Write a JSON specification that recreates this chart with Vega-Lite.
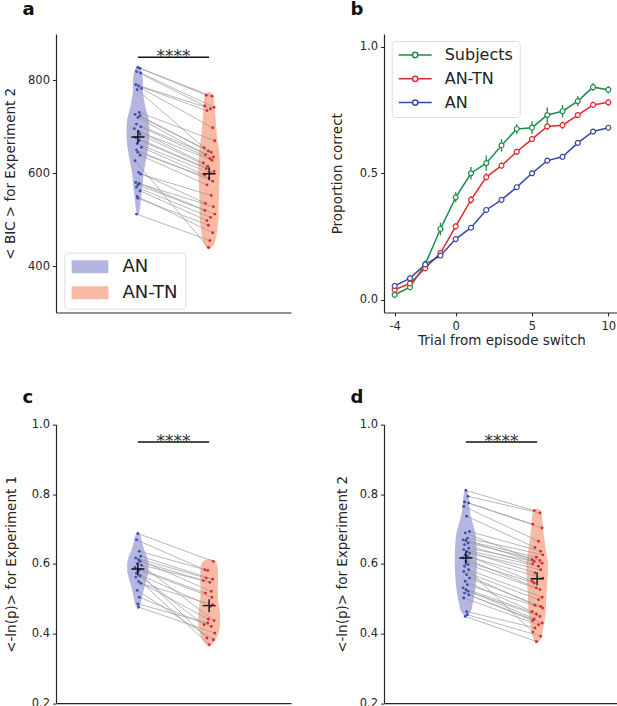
{
  "$schema": "https://vega.github.io/schema/vega-lite/v6.json",
  "background": "white",
  "padding": {"left": 3, "top": 0, "right": 0, "bottom": 0},
  "datasets": {
    "pairs": [
      {"p": "a", "an": 828, "tn": 768, "xa": 0.0, "xt": 0.96},
      {"p": "a", "an": 826, "tn": 766, "xa": 0.03, "xt": 1.04},
      {"p": "a", "an": 819, "tn": 745, "xa": -0.02, "xt": 0.94},
      {"p": "a", "an": 816, "tn": 742, "xa": 0.04, "xt": 1.07},
      {"p": "a", "an": 791, "tn": 739, "xa": -0.03, "xt": 1.02},
      {"p": "a", "an": 788, "tn": 735, "xa": 0.01, "xt": 0.97},
      {"p": "a", "an": 783, "tn": 698, "xa": 0.05, "xt": 1.05},
      {"p": "a", "an": 780, "tn": 655, "xa": -0.01, "xt": 0.93},
      {"p": "a", "an": 731, "tn": 670, "xa": 0.02, "xt": 1.08},
      {"p": "a", "an": 727, "tn": 648, "xa": -0.04, "xt": 0.99},
      {"p": "a", "an": 724, "tn": 645, "xa": 0.03, "xt": 1.03},
      {"p": "a", "an": 720, "tn": 640, "xa": 0.0, "xt": 0.95},
      {"p": "a", "an": 706, "tn": 635, "xa": -0.02, "xt": 1.06},
      {"p": "a", "an": 700, "tn": 632, "xa": 0.04, "xt": 1.01},
      {"p": "a", "an": 696, "tn": 622, "xa": -0.05, "xt": 0.92},
      {"p": "a", "an": 690, "tn": 628, "xa": 0.01, "xt": 1.04},
      {"p": "a", "an": 684, "tn": 615, "xa": 0.03, "xt": 0.98},
      {"p": "a", "an": 677, "tn": 604, "xa": -0.03, "xt": 1.07},
      {"p": "a", "an": 671, "tn": 610, "xa": 0.02, "xt": 0.96},
      {"p": "a", "an": 664, "tn": 600, "xa": -0.01, "xt": 1.02},
      {"p": "a", "an": 656, "tn": 596, "xa": 0.05, "xt": 0.94},
      {"p": "a", "an": 650, "tn": 583, "xa": -0.02, "xt": 1.05},
      {"p": "a", "an": 645, "tn": 590, "xa": 0.0, "xt": 1.0},
      {"p": "a", "an": 639, "tn": 575, "xa": 0.03, "xt": 0.97},
      {"p": "a", "an": 627, "tn": 440, "xa": -0.04, "xt": 0.99},
      {"p": "a", "an": 602, "tn": 535, "xa": 0.01, "xt": 0.95},
      {"p": "a", "an": 598, "tn": 552, "xa": 0.04, "xt": 1.03},
      {"p": "a", "an": 580, "tn": 528, "xa": -0.03, "xt": 1.06},
      {"p": "a", "an": 578, "tn": 512, "xa": 0.02, "xt": 1.08},
      {"p": "a", "an": 575, "tn": 520, "xa": 0.0, "xt": 0.94},
      {"p": "a", "an": 570, "tn": 505, "xa": -0.02, "xt": 1.02},
      {"p": "a", "an": 562, "tn": 498, "xa": 0.03, "xt": 0.97},
      {"p": "a", "an": 550, "tn": 472, "xa": -0.01, "xt": 1.05},
      {"p": "a", "an": 546, "tn": 488, "xa": 0.0, "xt": 0.99},
      {"p": "a", "an": 512, "tn": 455, "xa": -0.02, "xt": 1.01},
      {"p": "c", "an": 0.687, "tn": 0.607, "xa": 0.0, "xt": 1.06},
      {"p": "c", "an": 0.669, "tn": 0.583, "xa": -0.02, "xt": 0.94},
      {"p": "c", "an": 0.636, "tn": 0.581, "xa": 0.02, "xt": 0.98},
      {"p": "c", "an": 0.622, "tn": 0.556, "xa": 0.04, "xt": 1.05},
      {"p": "c", "an": 0.617, "tn": 0.559, "xa": -0.03, "xt": 0.96},
      {"p": "c", "an": 0.612, "tn": 0.521, "xa": 0.01, "xt": 1.03},
      {"p": "c", "an": 0.607, "tn": 0.552, "xa": 0.03, "xt": 0.92},
      {"p": "c", "an": 0.600, "tn": 0.547, "xa": -0.01, "xt": 1.01},
      {"p": "c", "an": 0.596, "tn": 0.437, "xa": 0.05, "xt": 1.07},
      {"p": "c", "an": 0.590, "tn": 0.516, "xa": -0.04, "xt": 0.95},
      {"p": "c", "an": 0.583, "tn": 0.504, "xa": 0.02, "xt": 1.04},
      {"p": "c", "an": 0.578, "tn": 0.387, "xa": 0.0, "xt": 0.97},
      {"p": "c", "an": 0.573, "tn": 0.478, "xa": -0.02, "xt": 1.02},
      {"p": "c", "an": 0.565, "tn": 0.425, "xa": 0.03, "xt": 0.93},
      {"p": "c", "an": 0.562, "tn": 0.368, "xa": -0.03, "xt": 1.0},
      {"p": "c", "an": 0.549, "tn": 0.441, "xa": 0.01, "xt": 0.99},
      {"p": "c", "an": 0.544, "tn": 0.483, "xa": 0.04, "xt": 1.05},
      {"p": "c", "an": 0.524, "tn": 0.382, "xa": -0.01, "xt": 1.06},
      {"p": "c", "an": 0.504, "tn": 0.420, "xa": 0.02, "xt": 1.03},
      {"p": "c", "an": 0.485, "tn": 0.430, "xa": 0.0, "xt": 0.98},
      {"p": "c", "an": 0.476, "tn": 0.401, "xa": 0.01, "xt": 1.08},
      {"p": "d", "an": 0.811, "tn": 0.753, "xa": 0.0, "xt": 0.96},
      {"p": "d", "an": 0.794, "tn": 0.746, "xa": 0.03, "xt": 1.04},
      {"p": "d", "an": 0.778, "tn": 0.714, "xa": -0.02, "xt": 0.94},
      {"p": "d", "an": 0.775, "tn": 0.703, "xa": 0.04, "xt": 1.07},
      {"p": "d", "an": 0.765, "tn": 0.665, "xa": -0.03, "xt": 1.02},
      {"p": "d", "an": 0.737, "tn": 0.647, "xa": 0.01, "xt": 0.97},
      {"p": "d", "an": 0.693, "tn": 0.636, "xa": 0.05, "xt": 1.05},
      {"p": "d", "an": 0.689, "tn": 0.612, "xa": -0.01, "xt": 0.93},
      {"p": "d", "an": 0.674, "tn": 0.626, "xa": 0.02, "xt": 1.08},
      {"p": "d", "an": 0.669, "tn": 0.619, "xa": -0.04, "xt": 0.99},
      {"p": "d", "an": 0.667, "tn": 0.607, "xa": 0.0, "xt": 0.96},
      {"p": "d", "an": 0.660, "tn": 0.610, "xa": 0.03, "xt": 1.04},
      {"p": "d", "an": 0.655, "tn": 0.600, "xa": -0.02, "xt": 0.94},
      {"p": "d", "an": 0.645, "tn": 0.602, "xa": 0.04, "xt": 1.07},
      {"p": "d", "an": 0.641, "tn": 0.593, "xa": -0.03, "xt": 1.02},
      {"p": "d", "an": 0.636, "tn": 0.574, "xa": 0.01, "xt": 0.97},
      {"p": "d", "an": 0.631, "tn": 0.583, "xa": 0.05, "xt": 1.05},
      {"p": "d", "an": 0.626, "tn": 0.550, "xa": -0.01, "xt": 0.93},
      {"p": "d", "an": 0.622, "tn": 0.559, "xa": 0.02, "xt": 1.08},
      {"p": "d", "an": 0.617, "tn": 0.531, "xa": -0.04, "xt": 0.99},
      {"p": "d", "an": 0.607, "tn": 0.545, "xa": 0.0, "xt": 0.96},
      {"p": "d", "an": 0.598, "tn": 0.526, "xa": 0.03, "xt": 1.04},
      {"p": "d", "an": 0.593, "tn": 0.404, "xa": -0.02, "xt": 0.94},
      {"p": "d", "an": 0.583, "tn": 0.504, "xa": 0.04, "xt": 1.07},
      {"p": "d", "an": 0.578, "tn": 0.497, "xa": -0.03, "xt": 1.02},
      {"p": "d", "an": 0.569, "tn": 0.481, "xa": 0.01, "xt": 0.97},
      {"p": "d", "an": 0.559, "tn": 0.478, "xa": 0.05, "xt": 1.05},
      {"p": "d", "an": 0.550, "tn": 0.463, "xa": -0.01, "xt": 0.93},
      {"p": "d", "an": 0.540, "tn": 0.473, "xa": 0.02, "xt": 1.08},
      {"p": "d", "an": 0.531, "tn": 0.456, "xa": -0.04, "xt": 0.99},
      {"p": "d", "an": 0.526, "tn": 0.442, "xa": 0.0, "xt": 0.96},
      {"p": "d", "an": 0.521, "tn": 0.449, "xa": 0.03, "xt": 1.04},
      {"p": "d", "an": 0.516, "tn": 0.437, "xa": -0.02, "xt": 0.94},
      {"p": "d", "an": 0.511, "tn": 0.430, "xa": 0.04, "xt": 1.07},
      {"p": "d", "an": 0.502, "tn": 0.425, "xa": -0.03, "xt": 1.02},
      {"p": "d", "an": 0.463, "tn": 0.416, "xa": 0.01, "xt": 0.97},
      {"p": "d", "an": 0.454, "tn": 0.392, "xa": 0.02, "xt": 1.05},
      {"p": "d", "an": 0.449, "tn": 0.377, "xa": -0.01, "xt": 0.99}
    ],
    "violin": [
      {"p": "a", "g": "AN", "v": 832, "lo": 0, "hi": 0},
      {"p": "a", "g": "AN", "v": 828, "lo": -0.03, "hi": 0.03},
      {"p": "a", "g": "AN", "v": 815, "lo": -0.055, "hi": 0.055},
      {"p": "a", "g": "AN", "v": 800, "lo": -0.07, "hi": 0.07},
      {"p": "a", "g": "AN", "v": 780, "lo": -0.07, "hi": 0.07},
      {"p": "a", "g": "AN", "v": 760, "lo": -0.085, "hi": 0.085},
      {"p": "a", "g": "AN", "v": 740, "lo": -0.11, "hi": 0.11},
      {"p": "a", "g": "AN", "v": 720, "lo": -0.145, "hi": 0.145},
      {"p": "a", "g": "AN", "v": 700, "lo": -0.16, "hi": 0.16},
      {"p": "a", "g": "AN", "v": 680, "lo": -0.16, "hi": 0.16},
      {"p": "a", "g": "AN", "v": 660, "lo": -0.15, "hi": 0.15},
      {"p": "a", "g": "AN", "v": 640, "lo": -0.13, "hi": 0.13},
      {"p": "a", "g": "AN", "v": 620, "lo": -0.105, "hi": 0.105},
      {"p": "a", "g": "AN", "v": 600, "lo": -0.08, "hi": 0.08},
      {"p": "a", "g": "AN", "v": 580, "lo": -0.07, "hi": 0.07},
      {"p": "a", "g": "AN", "v": 560, "lo": -0.055, "hi": 0.055},
      {"p": "a", "g": "AN", "v": 540, "lo": -0.04, "hi": 0.04},
      {"p": "a", "g": "AN", "v": 520, "lo": -0.025, "hi": 0.025},
      {"p": "a", "g": "AN", "v": 508, "lo": 0, "hi": 0},
      {"p": "a", "g": "AN-TN", "v": 775, "lo": 1, "hi": 1},
      {"p": "a", "g": "AN-TN", "v": 768, "lo": 0.94, "hi": 1.06},
      {"p": "a", "g": "AN-TN", "v": 750, "lo": 0.925, "hi": 1.075},
      {"p": "a", "g": "AN-TN", "v": 720, "lo": 0.91, "hi": 1.09},
      {"p": "a", "g": "AN-TN", "v": 700, "lo": 0.9, "hi": 1.1},
      {"p": "a", "g": "AN-TN", "v": 680, "lo": 0.89, "hi": 1.11},
      {"p": "a", "g": "AN-TN", "v": 660, "lo": 0.87, "hi": 1.13},
      {"p": "a", "g": "AN-TN", "v": 640, "lo": 0.855, "hi": 1.145},
      {"p": "a", "g": "AN-TN", "v": 620, "lo": 0.85, "hi": 1.15},
      {"p": "a", "g": "AN-TN", "v": 600, "lo": 0.85, "hi": 1.15},
      {"p": "a", "g": "AN-TN", "v": 580, "lo": 0.855, "hi": 1.145},
      {"p": "a", "g": "AN-TN", "v": 560, "lo": 0.86, "hi": 1.14},
      {"p": "a", "g": "AN-TN", "v": 540, "lo": 0.865, "hi": 1.135},
      {"p": "a", "g": "AN-TN", "v": 520, "lo": 0.865, "hi": 1.135},
      {"p": "a", "g": "AN-TN", "v": 500, "lo": 0.87, "hi": 1.13},
      {"p": "a", "g": "AN-TN", "v": 480, "lo": 0.885, "hi": 1.115},
      {"p": "a", "g": "AN-TN", "v": 460, "lo": 0.905, "hi": 1.095},
      {"p": "a", "g": "AN-TN", "v": 445, "lo": 0.94, "hi": 1.06},
      {"p": "a", "g": "AN-TN", "v": 435, "lo": 1, "hi": 1},
      {"p": "c", "g": "AN", "v": 0.695, "lo": 0, "hi": 0},
      {"p": "c", "g": "AN", "v": 0.685, "lo": -0.03, "hi": 0.03},
      {"p": "c", "g": "AN", "v": 0.66, "lo": -0.06, "hi": 0.06},
      {"p": "c", "g": "AN", "v": 0.64, "lo": -0.09, "hi": 0.09},
      {"p": "c", "g": "AN", "v": 0.62, "lo": -0.13, "hi": 0.13},
      {"p": "c", "g": "AN", "v": 0.60, "lo": -0.15, "hi": 0.15},
      {"p": "c", "g": "AN", "v": 0.58, "lo": -0.15, "hi": 0.15},
      {"p": "c", "g": "AN", "v": 0.56, "lo": -0.13, "hi": 0.13},
      {"p": "c", "g": "AN", "v": 0.54, "lo": -0.1, "hi": 0.1},
      {"p": "c", "g": "AN", "v": 0.52, "lo": -0.075, "hi": 0.075},
      {"p": "c", "g": "AN", "v": 0.50, "lo": -0.055, "hi": 0.055},
      {"p": "c", "g": "AN", "v": 0.48, "lo": -0.03, "hi": 0.03},
      {"p": "c", "g": "AN", "v": 0.468, "lo": 0, "hi": 0},
      {"p": "c", "g": "AN-TN", "v": 0.615, "lo": 1, "hi": 1},
      {"p": "c", "g": "AN-TN", "v": 0.607, "lo": 0.91, "hi": 1.09},
      {"p": "c", "g": "AN-TN", "v": 0.59, "lo": 0.88, "hi": 1.12},
      {"p": "c", "g": "AN-TN", "v": 0.56, "lo": 0.875, "hi": 1.125},
      {"p": "c", "g": "AN-TN", "v": 0.53, "lo": 0.88, "hi": 1.12},
      {"p": "c", "g": "AN-TN", "v": 0.50, "lo": 0.875, "hi": 1.125},
      {"p": "c", "g": "AN-TN", "v": 0.47, "lo": 0.855, "hi": 1.145},
      {"p": "c", "g": "AN-TN", "v": 0.44, "lo": 0.845, "hi": 1.155},
      {"p": "c", "g": "AN-TN", "v": 0.42, "lo": 0.85, "hi": 1.15},
      {"p": "c", "g": "AN-TN", "v": 0.40, "lo": 0.87, "hi": 1.13},
      {"p": "c", "g": "AN-TN", "v": 0.385, "lo": 0.9, "hi": 1.1},
      {"p": "c", "g": "AN-TN", "v": 0.37, "lo": 0.95, "hi": 1.05},
      {"p": "c", "g": "AN-TN", "v": 0.362, "lo": 1, "hi": 1},
      {"p": "d", "g": "AN", "v": 0.818, "lo": 0, "hi": 0},
      {"p": "d", "g": "AN", "v": 0.80, "lo": -0.03, "hi": 0.03},
      {"p": "d", "g": "AN", "v": 0.77, "lo": -0.045, "hi": 0.045},
      {"p": "d", "g": "AN", "v": 0.74, "lo": -0.065, "hi": 0.065},
      {"p": "d", "g": "AN", "v": 0.72, "lo": -0.09, "hi": 0.09},
      {"p": "d", "g": "AN", "v": 0.70, "lo": -0.12, "hi": 0.12},
      {"p": "d", "g": "AN", "v": 0.68, "lo": -0.14, "hi": 0.14},
      {"p": "d", "g": "AN", "v": 0.65, "lo": -0.15, "hi": 0.15},
      {"p": "d", "g": "AN", "v": 0.62, "lo": -0.155, "hi": 0.155},
      {"p": "d", "g": "AN", "v": 0.60, "lo": -0.155, "hi": 0.155},
      {"p": "d", "g": "AN", "v": 0.57, "lo": -0.15, "hi": 0.15},
      {"p": "d", "g": "AN", "v": 0.54, "lo": -0.14, "hi": 0.14},
      {"p": "d", "g": "AN", "v": 0.51, "lo": -0.12, "hi": 0.12},
      {"p": "d", "g": "AN", "v": 0.48, "lo": -0.09, "hi": 0.09},
      {"p": "d", "g": "AN", "v": 0.46, "lo": -0.06, "hi": 0.06},
      {"p": "d", "g": "AN", "v": 0.445, "lo": 0, "hi": 0},
      {"p": "d", "g": "AN-TN", "v": 0.76, "lo": 1, "hi": 1},
      {"p": "d", "g": "AN-TN", "v": 0.75, "lo": 0.94, "hi": 1.06},
      {"p": "d", "g": "AN-TN", "v": 0.72, "lo": 0.925, "hi": 1.075},
      {"p": "d", "g": "AN-TN", "v": 0.69, "lo": 0.91, "hi": 1.09},
      {"p": "d", "g": "AN-TN", "v": 0.66, "lo": 0.89, "hi": 1.11},
      {"p": "d", "g": "AN-TN", "v": 0.63, "lo": 0.87, "hi": 1.13},
      {"p": "d", "g": "AN-TN", "v": 0.60, "lo": 0.85, "hi": 1.15},
      {"p": "d", "g": "AN-TN", "v": 0.57, "lo": 0.85, "hi": 1.15},
      {"p": "d", "g": "AN-TN", "v": 0.54, "lo": 0.86, "hi": 1.14},
      {"p": "d", "g": "AN-TN", "v": 0.51, "lo": 0.87, "hi": 1.13},
      {"p": "d", "g": "AN-TN", "v": 0.48, "lo": 0.875, "hi": 1.125},
      {"p": "d", "g": "AN-TN", "v": 0.45, "lo": 0.885, "hi": 1.115},
      {"p": "d", "g": "AN-TN", "v": 0.42, "lo": 0.91, "hi": 1.09},
      {"p": "d", "g": "AN-TN", "v": 0.40, "lo": 0.93, "hi": 1.07},
      {"p": "d", "g": "AN-TN", "v": 0.38, "lo": 0.96, "hi": 1.04},
      {"p": "d", "g": "AN-TN", "v": 0.372, "lo": 1, "hi": 1}
    ],
    "means": [
      {"p": "a", "pos": 0, "m": 678},
      {"p": "a", "pos": 1, "m": 599},
      {"p": "c", "pos": 0, "m": 0.585},
      {"p": "c", "pos": 1, "m": 0.480},
      {"p": "d", "pos": 0, "m": 0.617},
      {"p": "d", "pos": 1, "m": 0.557}
    ],
    "sig": [
      {"p": "a", "x1": 0, "x2": 1, "xm": 0.5, "y": 850, "label": "****"},
      {"p": "c", "x1": 0, "x2": 1, "xm": 0.5, "y": 0.95, "label": "****"},
      {"p": "d", "x1": 0, "x2": 1, "xm": 0.5, "y": 0.95, "label": "****"}
    ],
    "curves": [
      {"s": "Subjects", "t": -4, "p": 0.02, "lo": 0.01, "hi": 0.03},
      {"s": "Subjects", "t": -3, "p": 0.05, "lo": 0.04, "hi": 0.06},
      {"s": "Subjects", "t": -2, "p": 0.14, "lo": 0.125, "hi": 0.155},
      {"s": "Subjects", "t": -1, "p": 0.28, "lo": 0.255, "hi": 0.305},
      {"s": "Subjects", "t": 0, "p": 0.405, "lo": 0.385, "hi": 0.425},
      {"s": "Subjects", "t": 1, "p": 0.5, "lo": 0.475, "hi": 0.525},
      {"s": "Subjects", "t": 2, "p": 0.54, "lo": 0.51, "hi": 0.57},
      {"s": "Subjects", "t": 3, "p": 0.61, "lo": 0.585, "hi": 0.635},
      {"s": "Subjects", "t": 4, "p": 0.675, "lo": 0.655, "hi": 0.695},
      {"s": "Subjects", "t": 5, "p": 0.68, "lo": 0.655, "hi": 0.705},
      {"s": "Subjects", "t": 6, "p": 0.73, "lo": 0.7, "hi": 0.76},
      {"s": "Subjects", "t": 7, "p": 0.745, "lo": 0.72, "hi": 0.77},
      {"s": "Subjects", "t": 8, "p": 0.785, "lo": 0.765, "hi": 0.805},
      {"s": "Subjects", "t": 9, "p": 0.84, "lo": 0.825, "hi": 0.855},
      {"s": "Subjects", "t": 10, "p": 0.83, "lo": 0.815, "hi": 0.845},
      {"s": "AN-TN", "t": -4, "p": 0.04, "lo": 0.028, "hi": 0.052},
      {"s": "AN-TN", "t": -3, "p": 0.065, "lo": 0.053, "hi": 0.077},
      {"s": "AN-TN", "t": -2, "p": 0.125, "lo": 0.113, "hi": 0.137},
      {"s": "AN-TN", "t": -1, "p": 0.185, "lo": 0.173, "hi": 0.197},
      {"s": "AN-TN", "t": 0, "p": 0.29, "lo": 0.278, "hi": 0.302},
      {"s": "AN-TN", "t": 1, "p": 0.395, "lo": 0.38, "hi": 0.41},
      {"s": "AN-TN", "t": 2, "p": 0.485, "lo": 0.47, "hi": 0.5},
      {"s": "AN-TN", "t": 3, "p": 0.53, "lo": 0.518, "hi": 0.542},
      {"s": "AN-TN", "t": 4, "p": 0.585, "lo": 0.573, "hi": 0.597},
      {"s": "AN-TN", "t": 5, "p": 0.635, "lo": 0.623, "hi": 0.647},
      {"s": "AN-TN", "t": 6, "p": 0.685, "lo": 0.67, "hi": 0.7},
      {"s": "AN-TN", "t": 7, "p": 0.69, "lo": 0.675, "hi": 0.705},
      {"s": "AN-TN", "t": 8, "p": 0.73, "lo": 0.718, "hi": 0.742},
      {"s": "AN-TN", "t": 9, "p": 0.77, "lo": 0.758, "hi": 0.782},
      {"s": "AN-TN", "t": 10, "p": 0.78, "lo": 0.768, "hi": 0.792},
      {"s": "AN", "t": -4, "p": 0.055, "lo": 0.047, "hi": 0.063},
      {"s": "AN", "t": -3, "p": 0.085, "lo": 0.077, "hi": 0.093},
      {"s": "AN", "t": -2, "p": 0.14, "lo": 0.132, "hi": 0.148},
      {"s": "AN", "t": -1, "p": 0.175, "lo": 0.167, "hi": 0.183},
      {"s": "AN", "t": 0, "p": 0.24, "lo": 0.232, "hi": 0.248},
      {"s": "AN", "t": 1, "p": 0.285, "lo": 0.277, "hi": 0.293},
      {"s": "AN", "t": 2, "p": 0.355, "lo": 0.347, "hi": 0.363},
      {"s": "AN", "t": 3, "p": 0.395, "lo": 0.387, "hi": 0.403},
      {"s": "AN", "t": 4, "p": 0.445, "lo": 0.437, "hi": 0.453},
      {"s": "AN", "t": 5, "p": 0.5, "lo": 0.492, "hi": 0.508},
      {"s": "AN", "t": 6, "p": 0.55, "lo": 0.54, "hi": 0.56},
      {"s": "AN", "t": 7, "p": 0.565, "lo": 0.555, "hi": 0.575},
      {"s": "AN", "t": 8, "p": 0.62, "lo": 0.612, "hi": 0.628},
      {"s": "AN", "t": 9, "p": 0.665, "lo": 0.657, "hi": 0.673},
      {"s": "AN", "t": 10, "p": 0.68, "lo": 0.672, "hi": 0.688}
    ]
  },
  "columns": 2,
  "bounds": "flush",
  "spacing": {"row": 111.6, "column": 93},
  "resolve": {"scale": {"color": "independent"}, "legend": {"color": "independent"}},
  "concat": [
    {
      "width": 235,
      "height": 278.5,
      "title": {"text": "a", "anchor": "start", "frame": "group", "dx": -33.6, "offset": 1.4, "baseline": "alphabetic"},
      "layer": [
        {
          "data": {"name": "violin"},
          "transform": [{"filter": "datum.p == 'a'"}],
          "mark": {"type": "area", "orient": "horizontal", "interpolate": "monotone", "opacity": 1},
          "encoding": {
            "y": {"field": "v", "type": "quantitative", "title": "< BIC >  for Experiment 2", "scale": {"domain": [300, 900], "nice": false, "zero": false}, "axis": {"values": [400, 600, 800], "titlePadding": 10}},
            "x": {"field": "lo", "type": "quantitative", "title": null, "scale": {"domain": [-1.15, 2.15], "nice": false, "zero": false}, "axis": {"ticks": false, "labels": false, "title": null}},
            "x2": {"field": "hi"},
            "color": {
              "field": "g", "type": "nominal",
              "scale": {"domain": ["AN", "AN-TN"], "range": ["#b4b6e1", "#f8baa3"]},
              "legend": {"orient": "none", "legendX": 8.4, "legendY": 218.7, "title": null, "symbolType": "M-1,-0.35H1V0.35H-1Z", "symbolSize": 1369, "symbolStrokeWidth": 0, "symbolOpacity": 1, "clipHeight": 14, "labelFontSize": 18, "labelOffset": 14, "rowPadding": 8, "padding": 7, "strokeColor": "#dddddd", "fillColor": "rgba(255,255,255,0.85)", "cornerRadius": 3, "labelColor": "#222222"}
            }
          }
        },
        {
          "data": {"name": "pairs"},
          "transform": [{"filter": "datum.p == 'a'"}],
          "mark": {"type": "rule", "color": "#9a9a9a", "strokeWidth": 0.7},
          "encoding": {
            "x": {"field": "xa", "type": "quantitative", "title": null},
            "y": {"field": "an", "type": "quantitative", "title": "< BIC >  for Experiment 2"},
            "x2": {"field": "xt"},
            "y2": {"field": "tn"}
          }
        },
        {
          "data": {"name": "pairs"},
          "transform": [{"filter": "datum.p == 'a'"}],
          "mark": {"type": "point", "filled": true, "color": "#3d4ea5", "size": 8, "opacity": 1},
          "encoding": {
            "x": {"field": "xa", "type": "quantitative", "title": null},
            "y": {"field": "an", "type": "quantitative", "title": "< BIC >  for Experiment 2"}
          }
        },
        {
          "data": {"name": "pairs"},
          "transform": [{"filter": "datum.p == 'a'"}],
          "mark": {"type": "point", "filled": true, "color": "#d8283a", "size": 8, "opacity": 1},
          "encoding": {
            "x": {"field": "xt", "type": "quantitative", "title": null},
            "y": {"field": "tn", "type": "quantitative", "title": "< BIC >  for Experiment 2"}
          }
        },
        {
          "data": {"name": "means"},
          "transform": [{"filter": "datum.p == 'a'"}],
          "mark": {"type": "point", "shape": "M-1,0H1M0,-1V1", "size": 169, "filled": false, "strokeWidth": 1.4, "color": "#111111", "opacity": 1},
          "encoding": {
            "x": {"field": "pos", "type": "quantitative", "title": null},
            "y": {"field": "m", "type": "quantitative", "title": "< BIC >  for Experiment 2"}
          }
        },
        {
          "data": {"name": "sig"},
          "transform": [{"filter": "datum.p == 'a'"}],
          "mark": {"type": "rule", "color": "#111111", "strokeWidth": 1.5},
          "encoding": {
            "x": {"field": "x1", "type": "quantitative", "title": null},
            "x2": {"field": "x2"},
            "y": {"field": "y", "type": "quantitative", "title": "< BIC >  for Experiment 2"}
          }
        },
        {
          "data": {"name": "sig"},
          "transform": [{"filter": "datum.p == 'a'"}],
          "mark": {"type": "text", "baseline": "alphabetic", "dy": 5, "fontSize": 17, "color": "#333333"},
          "encoding": {
            "x": {"field": "xm", "type": "quantitative", "title": null},
            "y": {"field": "y", "type": "quantitative", "title": "< BIC >  for Experiment 2"},
            "text": {"field": "label"}
          }
        }
      ]
    },
    {
      "width": 235,
      "height": 278.5,
      "title": {"text": "b", "anchor": "start", "frame": "group", "dx": -33.6, "offset": 1.4, "baseline": "alphabetic"},
      "data": {"name": "curves"},
      "layer": [
        {
          "mark": {"type": "rule", "strokeWidth": 1.3},
          "encoding": {
            "x": {"field": "t", "type": "quantitative", "title": "Trial from episode switch", "scale": {"domain": [-4.7, 10.7], "nice": false, "zero": false}, "axis": {"values": [-4, 0, 5, 10], "labelExpr": "'' + datum.value", "titlePadding": 2, "labelPadding": 4}},
            "y": {"field": "lo", "type": "quantitative", "title": "Proportion correct", "scale": {"domain": [-0.05, 1.05], "nice": false, "zero": false}, "axis": {"values": [0, 0.5, 1], "format": ".1f", "titlePadding": 15}},
            "y2": {"field": "hi"},
            "color": {
              "field": "s", "type": "nominal",
              "scale": {"domain": ["Subjects", "AN-TN", "AN"], "range": ["#1f8b49", "#e2292d", "#3548a8"]},
              "legend": {"orient": "none", "legendX": 7.7, "legendY": 7, "title": null, "symbolType": "M-1,0H-0.16M0.16,0H1M-0.16,0A0.16,0.16,0,1,1,0.16,0A0.16,0.16,0,1,1,-0.16,0", "symbolSize": 1089, "symbolStrokeWidth": 1.5, "symbolFillColor": "white", "clipHeight": 16, "labelFontSize": 16, "labelOffset": 12, "rowPadding": 7.8, "padding": 6, "strokeColor": "#dddddd", "fillColor": "rgba(255,255,255,0.85)", "cornerRadius": 3, "labelColor": "#222222"}
            }
          }
        },
        {
          "mark": {"type": "line", "strokeWidth": 1.5},
          "encoding": {
            "x": {"field": "t", "type": "quantitative", "title": "Trial from episode switch"},
            "y": {"field": "p", "type": "quantitative", "title": "Proportion correct"},
            "color": {"field": "s", "type": "nominal"}
          }
        },
        {
          "mark": {"type": "point", "filled": false, "fill": "white", "size": 24, "strokeWidth": 1.2, "opacity": 1},
          "encoding": {
            "x": {"field": "t", "type": "quantitative", "title": "Trial from episode switch"},
            "y": {"field": "p", "type": "quantitative", "title": "Proportion correct"},
            "color": {"field": "s", "type": "nominal"}
          }
        }
      ]
    },
    {
      "width": 235,
      "height": 278.5,
      "title": {"text": "c", "anchor": "start", "frame": "group", "dx": -33.6, "offset": -2.3, "baseline": "alphabetic"},
      "layer": [
        {
          "data": {"name": "violin"},
          "transform": [{"filter": "datum.p == 'c'"}],
          "mark": {"type": "area", "orient": "horizontal", "interpolate": "monotone", "opacity": 1},
          "encoding": {
            "y": {"field": "v", "type": "quantitative", "title": "<-ln(p)> for Experiment 1", "scale": {"domain": [0.2, 1.0], "nice": false, "zero": false}, "axis": {"values": [0.2, 0.4, 0.6, 0.8, 1.0], "format": ".1f", "titlePadding": 13}},
            "x": {"field": "lo", "type": "quantitative", "title": null, "scale": {"domain": [-1.15, 2.15], "nice": false, "zero": false}, "axis": {"ticks": false, "labels": false, "title": null}},
            "x2": {"field": "hi"},
            "color": {"field": "g", "type": "nominal", "scale": {"domain": ["AN", "AN-TN"], "range": ["#b4b6e1", "#f8baa3"]}, "legend": null}
          }
        },
        {
          "data": {"name": "pairs"},
          "transform": [{"filter": "datum.p == 'c'"}],
          "mark": {"type": "rule", "color": "#9a9a9a", "strokeWidth": 0.7},
          "encoding": {
            "x": {"field": "xa", "type": "quantitative", "title": null},
            "y": {"field": "an", "type": "quantitative", "title": "<-ln(p)> for Experiment 1"},
            "x2": {"field": "xt"},
            "y2": {"field": "tn"}
          }
        },
        {
          "data": {"name": "pairs"},
          "transform": [{"filter": "datum.p == 'c'"}],
          "mark": {"type": "point", "filled": true, "color": "#3d4ea5", "size": 8, "opacity": 1},
          "encoding": {
            "x": {"field": "xa", "type": "quantitative", "title": null},
            "y": {"field": "an", "type": "quantitative", "title": "<-ln(p)> for Experiment 1"}
          }
        },
        {
          "data": {"name": "pairs"},
          "transform": [{"filter": "datum.p == 'c'"}],
          "mark": {"type": "point", "filled": true, "color": "#d8283a", "size": 8, "opacity": 1},
          "encoding": {
            "x": {"field": "xt", "type": "quantitative", "title": null},
            "y": {"field": "tn", "type": "quantitative", "title": "<-ln(p)> for Experiment 1"}
          }
        },
        {
          "data": {"name": "means"},
          "transform": [{"filter": "datum.p == 'c'"}],
          "mark": {"type": "point", "shape": "M-1,0H1M0,-1V1", "size": 169, "filled": false, "strokeWidth": 1.4, "color": "#111111", "opacity": 1},
          "encoding": {
            "x": {"field": "pos", "type": "quantitative", "title": null},
            "y": {"field": "m", "type": "quantitative", "title": "<-ln(p)> for Experiment 1"}
          }
        },
        {
          "data": {"name": "sig"},
          "transform": [{"filter": "datum.p == 'c'"}],
          "mark": {"type": "rule", "color": "#111111", "strokeWidth": 1.5},
          "encoding": {
            "x": {"field": "x1", "type": "quantitative", "title": null},
            "x2": {"field": "x2"},
            "y": {"field": "y", "type": "quantitative", "title": "<-ln(p)> for Experiment 1"}
          }
        },
        {
          "data": {"name": "sig"},
          "transform": [{"filter": "datum.p == 'c'"}],
          "mark": {"type": "text", "baseline": "alphabetic", "dy": 5, "fontSize": 17, "color": "#333333"},
          "encoding": {
            "x": {"field": "xm", "type": "quantitative", "title": null},
            "y": {"field": "y", "type": "quantitative", "title": "<-ln(p)> for Experiment 1"},
            "text": {"field": "label"}
          }
        }
      ]
    },
    {
      "width": 235,
      "height": 278.5,
      "title": {"text": "d", "anchor": "start", "frame": "group", "dx": -33.6, "offset": -2.3, "baseline": "alphabetic"},
      "layer": [
        {
          "data": {"name": "violin"},
          "transform": [{"filter": "datum.p == 'd'"}],
          "mark": {"type": "area", "orient": "horizontal", "interpolate": "monotone", "opacity": 1},
          "encoding": {
            "y": {"field": "v", "type": "quantitative", "title": "<-ln(p)> for Experiment 2", "scale": {"domain": [0.2, 1.0], "nice": false, "zero": false}, "axis": {"values": [0.2, 0.4, 0.6, 0.8, 1.0], "format": ".1f", "titlePadding": 9.5}},
            "x": {"field": "lo", "type": "quantitative", "title": null, "scale": {"domain": [-1.15, 2.15], "nice": false, "zero": false}, "axis": {"ticks": false, "labels": false, "title": null}},
            "x2": {"field": "hi"},
            "color": {"field": "g", "type": "nominal", "scale": {"domain": ["AN", "AN-TN"], "range": ["#b4b6e1", "#f8baa3"]}, "legend": null}
          }
        },
        {
          "data": {"name": "pairs"},
          "transform": [{"filter": "datum.p == 'd'"}],
          "mark": {"type": "rule", "color": "#9a9a9a", "strokeWidth": 0.7},
          "encoding": {
            "x": {"field": "xa", "type": "quantitative", "title": null},
            "y": {"field": "an", "type": "quantitative", "title": "<-ln(p)> for Experiment 2"},
            "x2": {"field": "xt"},
            "y2": {"field": "tn"}
          }
        },
        {
          "data": {"name": "pairs"},
          "transform": [{"filter": "datum.p == 'd'"}],
          "mark": {"type": "point", "filled": true, "color": "#3d4ea5", "size": 8, "opacity": 1},
          "encoding": {
            "x": {"field": "xa", "type": "quantitative", "title": null},
            "y": {"field": "an", "type": "quantitative", "title": "<-ln(p)> for Experiment 2"}
          }
        },
        {
          "data": {"name": "pairs"},
          "transform": [{"filter": "datum.p == 'd'"}],
          "mark": {"type": "point", "filled": true, "color": "#d8283a", "size": 8, "opacity": 1},
          "encoding": {
            "x": {"field": "xt", "type": "quantitative", "title": null},
            "y": {"field": "tn", "type": "quantitative", "title": "<-ln(p)> for Experiment 2"}
          }
        },
        {
          "data": {"name": "means"},
          "transform": [{"filter": "datum.p == 'd'"}],
          "mark": {"type": "point", "shape": "M-1,0H1M0,-1V1", "size": 169, "filled": false, "strokeWidth": 1.4, "color": "#111111", "opacity": 1},
          "encoding": {
            "x": {"field": "pos", "type": "quantitative", "title": null},
            "y": {"field": "m", "type": "quantitative", "title": "<-ln(p)> for Experiment 2"}
          }
        },
        {
          "data": {"name": "sig"},
          "transform": [{"filter": "datum.p == 'd'"}],
          "mark": {"type": "rule", "color": "#111111", "strokeWidth": 1.5},
          "encoding": {
            "x": {"field": "x1", "type": "quantitative", "title": null},
            "x2": {"field": "x2"},
            "y": {"field": "y", "type": "quantitative", "title": "<-ln(p)> for Experiment 2"}
          }
        },
        {
          "data": {"name": "sig"},
          "transform": [{"filter": "datum.p == 'd'"}],
          "mark": {"type": "text", "baseline": "alphabetic", "dy": 5, "fontSize": 17, "color": "#333333"},
          "encoding": {
            "x": {"field": "xm", "type": "quantitative", "title": null},
            "y": {"field": "y", "type": "quantitative", "title": "<-ln(p)> for Experiment 2"},
            "text": {"field": "label"}
          }
        }
      ]
    }
  ],
  "config": {
    "font": "DejaVu Sans",
    "view": {"stroke": null},
    "title": {"font": "DejaVu Sans", "fontSize": 18, "fontWeight": "bold", "color": "#111111"},
    "axis": {
      "labelFont": "DejaVu Sans", "labelFontSize": 11.5, "labelColor": "#262626", "labelPadding": 3,
      "labelFlush": false, "labelOverlap": false,
      "titleFont": "DejaVu Sans", "titleFontSize": 13.5, "titleFontWeight": "normal", "titleColor": "#262626",
      "domainColor": "#262626", "domainWidth": 1.2,
      "tickColor": "#262626", "tickSize": 3.5, "tickWidth": 1, "grid": false
    },
    "legend": {"labelFont": "DejaVu Sans"}
  }
}
